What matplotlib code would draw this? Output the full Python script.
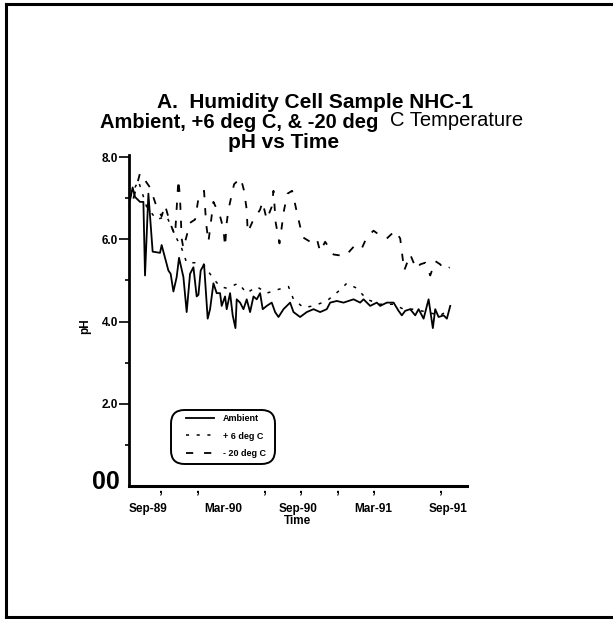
import matplotlib
matplotlib.use("Agg")
import matplotlib.pyplot as plt
from matplotlib.lines import Line2D
from matplotlib.patches import FancyBboxPatch

plt.rcParams['font.family'] = ['Liberation Sans', 'DejaVu Sans']

# tijd in maanden vanaf Sep-89, pH
amb_maand = [-1.44, -1.23, -1.04, -0.64, -0.37, -0.24, 0.03, 0.37, 0.96, 1.09,
             1.63, 1.81, 2.03, 2.29, 2.48, 2.83, 3.09, 3.36, 3.63, 3.89,
             4.03, 4.21, 4.48, 4.77, 4.96, 5.23, 5.49, 5.76, 5.89, 6.16,
             6.29, 6.56, 6.77, 6.99, 7.09, 7.36, 7.63, 7.89, 8.16, 8.43,
             8.69, 8.96, 9.17, 9.49, 9.89, 10.16, 10.43, 10.83, 11.36, 11.63,
             12.16, 12.69, 13.23, 13.76, 14.29, 14.56, 15.09, 15.63, 16.43, 16.96,
             17.23, 17.76, 18.29, 18.56, 19.09, 19.63, 20.03, 20.29, 20.56, 20.96,
             21.36, 21.63, 22.03, 22.43, 22.77, 22.96, 23.23, 23.63, 23.89, 24.16]
amb_ph = [6.95, 7.26, 7.03, 6.91, 6.91, 5.12, 7.11, 5.70, 5.67, 5.86,
          5.24, 5.16, 4.73, 5.08, 5.55, 5.08, 4.23, 5.16, 5.32, 4.61,
          4.65, 5.24, 5.39, 4.07, 4.30, 4.93, 4.69, 4.69, 4.38, 4.61,
          4.30, 4.69, 4.15, 3.84, 4.54, 4.46, 4.30, 4.54, 4.23, 4.61,
          4.54, 4.69, 4.30, 4.38, 4.46, 4.23, 4.11, 4.30, 4.46, 4.23,
          4.11, 4.23, 4.30, 4.23, 4.30, 4.46, 4.50, 4.46, 4.54, 4.46,
          4.54, 4.38, 4.46, 4.38, 4.46, 4.46, 4.26, 4.15, 4.26, 4.30,
          4.15, 4.30, 4.07, 4.54, 3.84, 4.30, 4.11, 4.15, 4.07, 4.38]

plus6_maand = [-1.44, -0.77, -0.11, 0.69, 1.49, 2.29, 2.69, 3.09, 3.76, 4.43,
               5.23, 5.76, 6.29, 7.23, 7.89, 8.69, 9.49, 10.29, 11.23, 11.63,
               12.43, 13.23, 14.29, 15.36, 15.89, 16.69, 17.49, 18.56, 19.63, 20.43,
               21.23, 22.29, 23.36, 24.16]
plus6_ph = [7.03, 7.42, 6.79, 6.48, 6.56, 6.02, 5.78, 5.43, 5.43, 5.39,
            5.04, 4.85, 4.81, 4.93, 4.69, 4.85, 4.69, 4.77, 4.85, 4.54,
            4.34, 4.38, 4.50, 4.77, 4.93, 4.81, 4.54, 4.42, 4.42, 4.30,
            4.30, 4.23, 4.15, 4.30]

min20_maand = [-1.17, -0.64, 0.16, 0.69, 1.09, 1.36, 1.76, 2.16, 2.43, 2.56,
               2.69, 2.83, 3.36, 3.76, 4.03, 4.48, 4.64, 4.83, 5.23, 5.76,
               6.03, 6.16, 6.29, 6.43, 6.88, 7.41, 7.68, 7.89, 7.97, 8.43,
               8.96, 9.15, 9.49, 9.89, 10.03, 10.21, 10.51, 10.88, 11.15, 11.52,
               12.03, 12.37, 12.96, 13.49, 13.76, 14.16, 14.83, 15.76, 16.56, 17.09,
               17.49, 18.03, 18.56, 19.09, 19.76, 20.16, 20.48, 20.96, 21.44, 21.76,
               22.16, 22.56, 22.96, 23.36, 23.76, 24.11]
min20_ph = [6.99, 7.61, 7.26, 6.79, 6.56, 6.83, 6.40, 6.09, 7.46, 6.99,
            6.02, 5.78, 6.40, 6.48, 6.99, 7.18, 6.40, 5.94, 6.91, 6.56,
            6.25, 5.82, 6.40, 6.72, 7.34, 7.49, 7.18, 6.72, 6.17, 6.48,
            6.72, 6.91, 6.48, 6.79, 7.18, 6.40, 5.90, 6.72, 7.11, 7.18,
            6.48, 6.05, 5.94, 6.02, 5.70, 5.94, 5.63, 5.59, 5.86, 5.78,
            6.05, 6.21, 6.09, 6.02, 6.21, 6.02, 5.24, 5.63, 5.28, 5.39,
            5.43, 5.12, 5.47, 5.39, 5.24, 5.32]

x_labels = ['Sep-89', 'Mar-90', 'Sep-90', 'Mar-91', 'Sep-91']
x_label_pos = [0, 6, 12, 18, 24]
komma_pos = [0.96, 3.92, 9.28, 12.16, 15.12, 18.0, 23.36]
y_major = [2, 4, 6, 8]
y_major_labels = ['2.0', '4.0', '6.0', '8.0']
y_minor = [1, 3, 5, 7]

fig = plt.figure(figsize=(6.13, 6.19), dpi=100)
W, H = 613, 619

# rand van de gescande pagina (links, boven, onder)
for xs, ys in [([6, 6], [4, 617]), ([6, 613], [4, 4]), ([6, 613], [617, 617])]:
    fig.add_artist(Line2D([x / W for x in xs], [1 - y / H for y in ys],
                          color='black', lw=2.2))

ax = fig.add_axes([129 / W, 1 - 486 / H, 338 / W, 331 / H])
ax.plot(amb_maand, amb_ph, color='black', lw=1.3, label='Ambient')
ax.plot(plus6_maand, plus6_ph, color='black', lw=1.1, linestyle=(0, (2, 5)),
        label='+ 6 deg C')
ax.plot(min20_maand, min20_ph, color='black', lw=1.3, linestyle=(0, (4, 6)),
        label='- 20 deg C')

ax.set_xlim(-1.52, 25.5)
ax.set_ylim(0, 8.05)
for s in ['top', 'right']:
    ax.spines[s].set_visible(False)
ax.spines['left'].set_linewidth(2)
ax.spines['bottom'].set_linewidth(2.2)

ax.set_yticks(y_major)
ax.set_yticklabels(y_major_labels, fontsize=8.5, fontweight='bold')
ax.set_yticks(y_minor, minor=True)
ax.tick_params(axis='y', which='major', length=7, width=1.2, pad=1)
ax.tick_params(axis='y', which='minor', length=3, width=1.2)
ax.set_xticks(x_label_pos)
ax.set_xticklabels(x_labels, fontsize=8.5, fontweight='bold')
ax.tick_params(axis='x', length=0, pad=12)

for k in komma_pos:
    ax.text(k, 0.12, ',', ha='center', va='top', fontsize=10, fontweight='bold')
ax.text(-2.24, 0.1, '00', ha='right', va='center', fontsize=18, fontweight='bold')

ax.set_xlabel('Time', fontsize=8.5, fontweight='bold', labelpad=0)
fig.text(85 / W, 1 - 326 / H, 'pH', rotation=90, ha='center', va='center',
         fontsize=8.5, fontweight='bold')

fig.text(315 / W, 1 - 103 / H, 'A.  Humidity Cell Sample NHC-1', ha='center',
         va='center', fontsize=15, fontweight='bold')
fig.text(100 / W, 1 - 122 / H, 'Ambient, +6 deg C, & -20 deg', ha='left',
         va='center', fontsize=14.5, fontweight='bold')
fig.text(390 / W, 1 - 120 / H, 'C Temperature', ha='left', va='center',
         fontsize=14.5)
fig.text(284 / W, 1 - 143 / H, 'pH vs Time', ha='center', va='center',
         fontsize=15, fontweight='bold')

# legenda in afgeronde kader
kader = FancyBboxPatch((171 / W, 1 - 464 / H), 104 / W, 54 / H,
                       boxstyle='round,pad=0,rounding_size=0.022',
                       transform=fig.transFigure, fill=False, lw=1.4,
                       edgecolor='black')
fig.add_artist(kader)
leg = ax.legend(loc='upper left', bbox_to_anchor=(186 / W, 1 - 414 / H),
                bbox_transform=fig.transFigure, frameon=False,
                borderpad=0, borderaxespad=0, handlelength=3.1,
                handletextpad=1.0, labelspacing=0.95,
                prop={'weight': 'bold', 'size': 6.5})

fig.savefig('out.png', dpi=100)
